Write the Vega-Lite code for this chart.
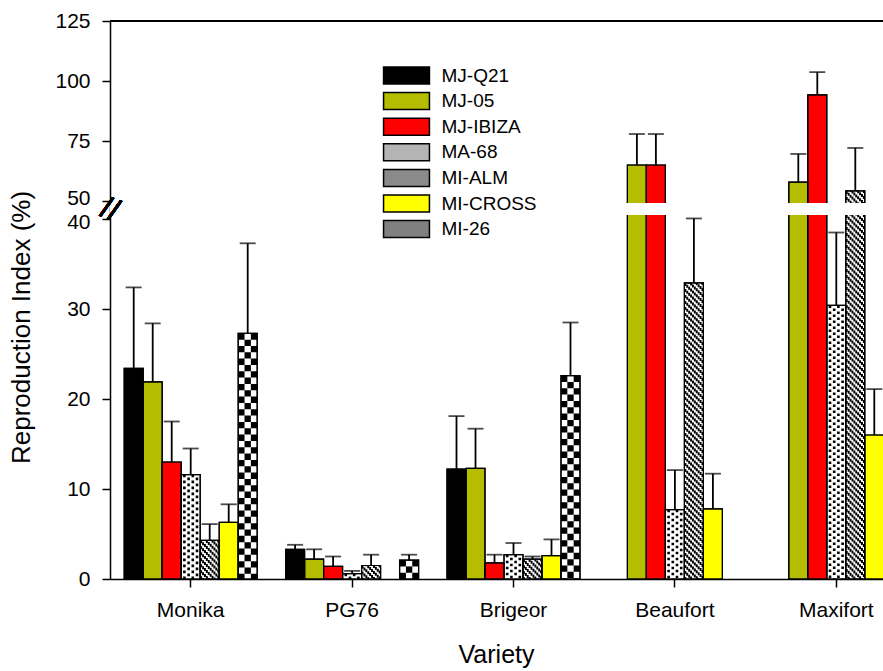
{
  "$schema": "https://vega.github.io/schema/vega-lite/v6.json",
  "autosize": "none",
  "padding": {"left": 110, "top": 21, "right": 0, "bottom": 92},
  "width": 773,
  "height": 558,
  "background": "white",
  "config": {
    "font": "Liberation Sans",
    "view": {"stroke": null},
    "axis": {
      "grid": false,
      "domainColor": "black",
      "domainWidth": 1.5,
      "tickColor": "black",
      "tickWidth": 1.5,
      "tickSize": 8,
      "labelColor": "black",
      "titleColor": "black",
      "titleFontWeight": "normal"
    },
    "legend": {
      "labelColor": "black",
      "labelFontSize": 19
    }
  },
  "data": {
    "values": [
      {"variety": "Monika", "isolate": "MJ-Q21", "mean": 23.4, "upper": 32.4},
      {"variety": "Monika", "isolate": "MJ-05", "mean": 21.9, "upper": 28.4},
      {"variety": "Monika", "isolate": "MJ-IBIZA", "mean": 13.0, "upper": 17.5},
      {"variety": "Monika", "isolate": "MA-68", "mean": 11.6, "upper": 14.5},
      {"variety": "Monika", "isolate": "MI-ALM", "mean": 4.3, "upper": 6.1},
      {"variety": "Monika", "isolate": "MI-CROSS", "mean": 6.3, "upper": 8.3},
      {"variety": "Monika", "isolate": "MI-26", "mean": 27.3, "upper": 37.3},
      {"variety": "PG76", "isolate": "MJ-Q21", "mean": 3.3, "upper": 3.8},
      {"variety": "PG76", "isolate": "MJ-05", "mean": 2.2, "upper": 3.3},
      {"variety": "PG76", "isolate": "MJ-IBIZA", "mean": 1.4, "upper": 2.5},
      {"variety": "PG76", "isolate": "MA-68", "mean": 0.6, "upper": 0.9},
      {"variety": "PG76", "isolate": "MI-ALM", "mean": 1.5, "upper": 2.7},
      {"variety": "PG76", "isolate": "MI-26", "mean": 2.1, "upper": 2.7},
      {"variety": "Brigeor", "isolate": "MJ-Q21", "mean": 12.2, "upper": 18.1},
      {"variety": "Brigeor", "isolate": "MJ-05", "mean": 12.3, "upper": 16.7},
      {"variety": "Brigeor", "isolate": "MJ-IBIZA", "mean": 1.8, "upper": 2.7},
      {"variety": "Brigeor", "isolate": "MA-68", "mean": 2.7, "upper": 4.0},
      {"variety": "Brigeor", "isolate": "MI-ALM", "mean": 2.2, "upper": 2.5},
      {"variety": "Brigeor", "isolate": "MI-CROSS", "mean": 2.6, "upper": 4.4},
      {"variety": "Brigeor", "isolate": "MI-26", "mean": 22.6, "upper": 28.5},
      {"variety": "Beaufort", "isolate": "MJ-05", "mean": 65.0, "upper": 77.9},
      {"variety": "Beaufort", "isolate": "MJ-IBIZA", "mean": 65.0, "upper": 77.9},
      {"variety": "Beaufort", "isolate": "MA-68", "mean": 7.7, "upper": 12.1},
      {"variety": "Beaufort", "isolate": "MI-ALM", "mean": 32.9, "upper": 40.3},
      {"variety": "Beaufort", "isolate": "MI-CROSS", "mean": 7.8, "upper": 11.7},
      {"variety": "Maxifort", "isolate": "MJ-05", "mean": 57.9, "upper": 69.6},
      {"variety": "Maxifort", "isolate": "MJ-IBIZA", "mean": 94.2, "upper": 103.7},
      {"variety": "Maxifort", "isolate": "MA-68", "mean": 30.4, "upper": 38.5},
      {"variety": "Maxifort", "isolate": "MI-ALM", "mean": 54.2, "upper": 72.1},
      {"variety": "Maxifort", "isolate": "MI-CROSS", "mean": 16.0, "upper": 21.1}
    ]
  },
  "layer": [
    {
      "mark": {"type": "bar", "stroke": "black", "strokeWidth": 1.2},
      "encoding": {
        "x": {
          "field": "variety", "type": "nominal",
          "scale": {"domain": ["Monika", "PG76", "Brigeor", "Beaufort", "Maxifort"], "range": [0, 807], "paddingInner": 0.176, "paddingOuter": 0.088},
          "axis": {"title": "Variety", "labelAngle": 0, "labelFontSize": 21, "labelPadding": 12, "titleFontSize": 25, "titlePadding": 22, "titleX": 386}
        },
        "xOffset": {
          "field": "isolate", "type": "nominal",
          "scale": {"domain": ["MJ-Q21", "MJ-05", "MJ-IBIZA", "MA-68", "MI-ALM", "MI-CROSS", "MI-26"], "paddingInner": 0, "paddingOuter": 0}
        },
        "y": {
          "field": "mean", "type": "quantitative",
          "scale": {"domain": [0, 40, 50, 125], "range": [558, 198, 180, 0], "nice": false, "zero": false},
          "axis": {
            "title": "Reproduction Index (%)",
            "values": [0, 10, 20, 30, 40, 50, 75, 100, 125],
            "labelOverlap": false, "labelFlush": false, "labelBound": false,
            "labelFontSize": 21, "labelPadding": 12,
            "labelOffset": {"condition": [{"test": "datum.value === 50", "value": -3}, {"test": "datum.value === 40", "value": 3}], "value": 0},
            "titleFontSize": 26, "titlePadding": 20, "titleY": 306
          }
        },
        "fill": {
          "field": "isolate", "type": "nominal",
          "sort": ["MJ-Q21", "MJ-05", "MJ-IBIZA", "MA-68", "MI-ALM", "MI-CROSS", "MI-26"],
          "scale": {"range": ["#000000", "#b5bd00", "#ff0000", "#ffffff", "#ffffff", "#ffff00", "#ffffff"]},
          "legend": null
        }
      }
    },
    {
      "transform": [{"filter": "false"}],
      "mark": {"type": "bar"},
      "encoding": {
        "x": {"field": "variety", "type": "nominal"},
        "y": {"field": "mean", "type": "quantitative"},
        "color": {
          "field": "isolate", "type": "nominal",
          "scale": {
            "domain": ["MJ-Q21", "MJ-05", "MJ-IBIZA", "MA-68", "MI-ALM", "MI-CROSS", "MI-26"],
            "range": ["#000000", "#b5bd00", "#ff0000", "#b4b4b4", "#8a8a8a", "#ffff00", "#808080"]
          },
          "legend": {
            "title": null,
            "orient": "none",
            "legendX": 287,
            "legendY": 45,
            "padding": 0,
            "labelOffset": 25.5,
            "rowPadding": 2.6,
            "symbolType": "M-2.7,-1H2.7V1H-2.7Z",
            "symbolSize": 289,
            "symbolStrokeColor": "black",
            "symbolStrokeWidth": 1.5
          }
        }
      }
    },
    {
      "transform": [{"filter": "datum.isolate === 'MA-68'"}],
      "mark": {"type": "rule", "color": "black", "strokeWidth": 2.6, "strokeDash": [2.6, 3.4], "strokeDashOffset": 0},
      "encoding": {"x": {"field": "variety", "type": "nominal", "bandPosition": 0.4526}, "y": {"field": "mean", "type": "quantitative"}, "y2": {"datum": 0}}
    },
    {
      "transform": [{"filter": "datum.isolate === 'MA-68'"}],
      "mark": {"type": "rule", "color": "black", "strokeWidth": 2.6, "strokeDash": [2.6, 3.4], "strokeDashOffset": 3},
      "encoding": {"x": {"field": "variety", "type": "nominal", "bandPosition": 0.4842}, "y": {"field": "mean", "type": "quantitative"}, "y2": {"datum": 0}}
    },
    {
      "transform": [{"filter": "datum.isolate === 'MA-68'"}],
      "mark": {"type": "rule", "color": "black", "strokeWidth": 2.6, "strokeDash": [2.6, 3.4], "strokeDashOffset": 0},
      "encoding": {"x": {"field": "variety", "type": "nominal", "bandPosition": 0.5158}, "y": {"field": "mean", "type": "quantitative"}, "y2": {"datum": 0}}
    },
    {
      "transform": [{"filter": "datum.isolate === 'MA-68'"}],
      "mark": {"type": "rule", "color": "black", "strokeWidth": 2.6, "strokeDash": [2.6, 3.4], "strokeDashOffset": 3},
      "encoding": {"x": {"field": "variety", "type": "nominal", "bandPosition": 0.5474}, "y": {"field": "mean", "type": "quantitative"}, "y2": {"datum": 0}}
    },
    {
      "transform": [{"filter": "datum.isolate === 'MI-ALM'"}],
      "mark": {"type": "rule", "color": "black", "strokeWidth": 1.95, "strokeDash": [3, 3], "strokeDashOffset": 0},
      "encoding": {"x": {"field": "variety", "type": "nominal", "bandPosition": 0.5786}, "y": {"field": "mean", "type": "quantitative"}, "y2": {"datum": 0}}
    },
    {
      "transform": [{"filter": "datum.isolate === 'MI-ALM'"}],
      "mark": {"type": "rule", "color": "black", "strokeWidth": 1.95, "strokeDash": [3, 3], "strokeDashOffset": 4.1},
      "encoding": {"x": {"field": "variety", "type": "nominal", "bandPosition": 0.5929}, "y": {"field": "mean", "type": "quantitative"}, "y2": {"datum": 0}}
    },
    {
      "transform": [{"filter": "datum.isolate === 'MI-ALM'"}],
      "mark": {"type": "rule", "color": "black", "strokeWidth": 1.95, "strokeDash": [3, 3], "strokeDashOffset": 2.2},
      "encoding": {"x": {"field": "variety", "type": "nominal", "bandPosition": 0.6071}, "y": {"field": "mean", "type": "quantitative"}, "y2": {"datum": 0}}
    },
    {
      "transform": [{"filter": "datum.isolate === 'MI-ALM'"}],
      "mark": {"type": "rule", "color": "black", "strokeWidth": 1.95, "strokeDash": [3, 3], "strokeDashOffset": 0.3},
      "encoding": {"x": {"field": "variety", "type": "nominal", "bandPosition": 0.6214}, "y": {"field": "mean", "type": "quantitative"}, "y2": {"datum": 0}}
    },
    {
      "transform": [{"filter": "datum.isolate === 'MI-ALM'"}],
      "mark": {"type": "rule", "color": "black", "strokeWidth": 1.95, "strokeDash": [3, 3], "strokeDashOffset": 4.4},
      "encoding": {"x": {"field": "variety", "type": "nominal", "bandPosition": 0.6357}, "y": {"field": "mean", "type": "quantitative"}, "y2": {"datum": 0}}
    },
    {
      "transform": [{"filter": "datum.isolate === 'MI-ALM'"}],
      "mark": {"type": "rule", "color": "black", "strokeWidth": 1.95, "strokeDash": [3, 3], "strokeDashOffset": 2.5},
      "encoding": {"x": {"field": "variety", "type": "nominal", "bandPosition": 0.65}, "y": {"field": "mean", "type": "quantitative"}, "y2": {"datum": 0}}
    },
    {
      "transform": [{"filter": "datum.isolate === 'MI-ALM'"}],
      "mark": {"type": "rule", "color": "black", "strokeWidth": 1.95, "strokeDash": [3, 3], "strokeDashOffset": 0.6},
      "encoding": {"x": {"field": "variety", "type": "nominal", "bandPosition": 0.6643}, "y": {"field": "mean", "type": "quantitative"}, "y2": {"datum": 0}}
    },
    {
      "transform": [{"filter": "datum.isolate === 'MI-ALM'"}],
      "mark": {"type": "rule", "color": "black", "strokeWidth": 1.95, "strokeDash": [3, 3], "strokeDashOffset": 4.7},
      "encoding": {"x": {"field": "variety", "type": "nominal", "bandPosition": 0.6786}, "y": {"field": "mean", "type": "quantitative"}, "y2": {"datum": 0}}
    },
    {
      "transform": [{"filter": "datum.isolate === 'MI-ALM'"}],
      "mark": {"type": "rule", "color": "black", "strokeWidth": 1.95, "strokeDash": [3, 3], "strokeDashOffset": 2.8},
      "encoding": {"x": {"field": "variety", "type": "nominal", "bandPosition": 0.6929}, "y": {"field": "mean", "type": "quantitative"}, "y2": {"datum": 0}}
    },
    {
      "transform": [{"filter": "datum.isolate === 'MI-ALM'"}],
      "mark": {"type": "rule", "color": "black", "strokeWidth": 1.95, "strokeDash": [3, 3], "strokeDashOffset": 0.9},
      "encoding": {"x": {"field": "variety", "type": "nominal", "bandPosition": 0.7071}, "y": {"field": "mean", "type": "quantitative"}, "y2": {"datum": 0}}
    },
    {
      "transform": [{"filter": "datum.isolate === 'MI-26'"}],
      "mark": {"type": "rule", "color": "black", "strokeWidth": 6.34, "strokeDash": [6.33, 6.33], "strokeDashOffset": 0},
      "encoding": {"x": {"field": "variety", "type": "nominal", "bandPosition": 0.881}, "y": {"field": "mean", "type": "quantitative"}, "y2": {"datum": 0}}
    },
    {
      "transform": [{"filter": "datum.isolate === 'MI-26'"}],
      "mark": {"type": "rule", "color": "black", "strokeWidth": 6.34, "strokeDash": [6.33, 6.33], "strokeDashOffset": 6.33},
      "encoding": {"x": {"field": "variety", "type": "nominal", "bandPosition": 0.9286}, "y": {"field": "mean", "type": "quantitative"}, "y2": {"datum": 0}}
    },
    {
      "transform": [{"filter": "datum.isolate === 'MI-26'"}],
      "mark": {"type": "rule", "color": "black", "strokeWidth": 6.34, "strokeDash": [6.33, 6.33], "strokeDashOffset": 0},
      "encoding": {"x": {"field": "variety", "type": "nominal", "bandPosition": 0.9762}, "y": {"field": "mean", "type": "quantitative"}, "y2": {"datum": 0}}
    },
    {
      "mark": {"type": "bar", "fillOpacity": 0, "stroke": "black", "strokeWidth": 1.2},
      "encoding": {
        "x": {"field": "variety", "type": "nominal"},
        "xOffset": {"field": "isolate", "type": "nominal"},
        "y": {"field": "mean", "type": "quantitative"}
      }
    },
    {
      "mark": {"type": "rule", "color": "black", "strokeWidth": 1.8},
      "encoding": {
        "x": {"field": "variety", "type": "nominal"},
        "xOffset": {"field": "isolate", "type": "nominal"},
        "y": {"field": "mean", "type": "quantitative"},
        "y2": {"field": "upper"}
      }
    },
    {
      "mark": {"type": "tick", "color": "black", "size": 16, "thickness": 1.8},
      "encoding": {
        "x": {"field": "variety", "type": "nominal"},
        "xOffset": {"field": "isolate", "type": "nominal"},
        "y": {"field": "upper", "type": "quantitative"}
      }
    },
    {
      "mark": {"type": "rect", "color": "white"},
      "encoding": {"y": {"datum": 42.5}, "y2": {"datum": 48.5}}
    },
    {
      "mark": {"type": "rule", "color": "black", "strokeWidth": 1.5},
      "encoding": {"y": {"datum": 125}}
    },
    {
      "mark": {"type": "text", "text": "//", "fontSize": 30, "angle": 20, "color": "black", "align": "center", "baseline": "middle"},
      "encoding": {"x": {"value": 0}, "y": {"datum": 45}}
    }
  ]
}
